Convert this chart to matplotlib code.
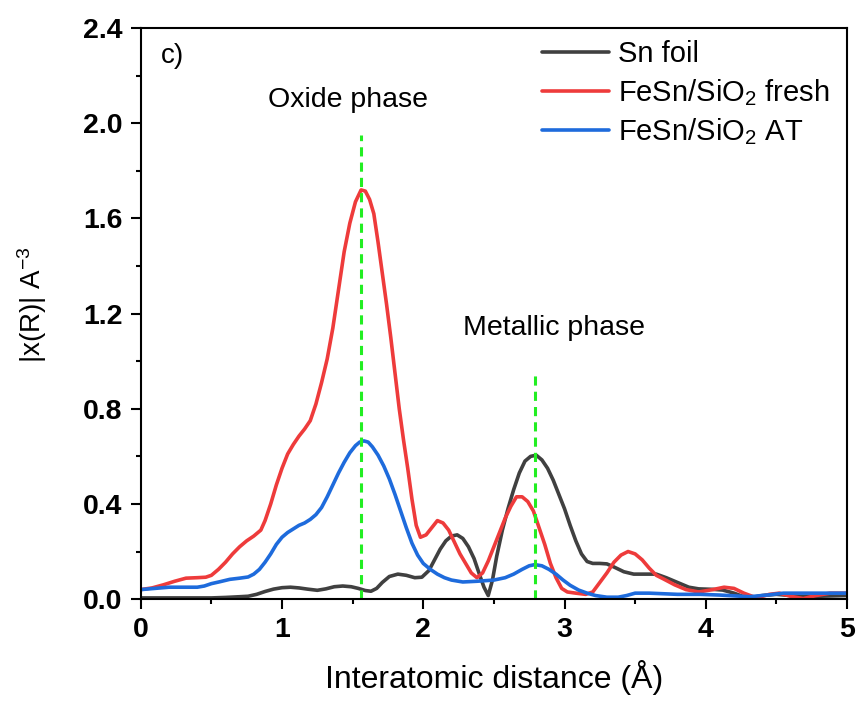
import matplotlib
matplotlib.use("Agg")
import matplotlib.pyplot as plt
from matplotlib.ticker import MultipleLocator

plt.rcParams['font.family'] = ['Liberation Sans', 'DejaVu Sans']
plt.rcParams['mathtext.fontset'] = 'custom'
plt.rcParams['mathtext.rm'] = 'Liberation Sans'
plt.rcParams['mathtext.it'] = 'Liberation Sans:italic'
plt.rcParams['mathtext.bf'] = 'Liberation Sans:bold'

# |chi(R)| magnitude of the Fourier-transformed EXAFS, Sn K-edge
r_foil = [0.00, 0.50, 0.60, 0.70, 0.76, 0.82, 0.88, 0.94, 1.00, 1.06, 1.12, 1.18,
          1.25, 1.31, 1.37, 1.43, 1.49, 1.54, 1.59, 1.63, 1.67, 1.71, 1.76, 1.82,
          1.88, 1.94, 1.99, 2.04, 2.08, 2.12, 2.16, 2.20, 2.24, 2.28, 2.32, 2.36,
          2.40, 2.43, 2.46, 2.49, 2.52, 2.56, 2.60, 2.64, 2.68, 2.72, 2.76, 2.80,
          2.84, 2.88, 2.92, 2.96, 3.00, 3.04, 3.08, 3.12, 3.16, 3.20, 3.25, 3.30,
          3.35, 3.42, 3.49, 3.57, 3.65, 3.72, 3.80, 3.88, 3.95, 4.05, 4.12, 4.20,
          4.27, 4.31, 4.40, 4.50, 4.60, 4.67, 4.80, 5.00]
chi_foil = [0.005, 0.005, 0.007, 0.010, 0.012, 0.020, 0.032, 0.042, 0.048, 0.050,
            0.047, 0.042, 0.037, 0.043, 0.052, 0.055, 0.052, 0.045, 0.036, 0.033,
            0.045, 0.070, 0.095, 0.105, 0.100, 0.090, 0.092, 0.120, 0.165, 0.210,
            0.245, 0.265, 0.270, 0.255, 0.220, 0.170, 0.100, 0.050, 0.015, 0.080,
            0.180, 0.290, 0.380, 0.460, 0.530, 0.580, 0.600, 0.605, 0.585, 0.550,
            0.500, 0.440, 0.380, 0.310, 0.245, 0.190, 0.158, 0.150, 0.150, 0.148,
            0.135, 0.115, 0.105, 0.105, 0.105, 0.090, 0.070, 0.050, 0.043, 0.041,
            0.038, 0.025, 0.010, 0.005, 0.015, 0.020, 0.015, 0.010, 0.012, 0.015]

r_fresh = [0.00, 0.08, 0.16, 0.24, 0.32, 0.40, 0.46, 0.50, 0.55, 0.60, 0.65, 0.70,
           0.75, 0.80, 0.85, 0.88, 0.92, 0.96, 1.00, 1.04, 1.08, 1.12, 1.16, 1.20,
           1.24, 1.28, 1.32, 1.36, 1.40, 1.44, 1.48, 1.52, 1.56, 1.59, 1.62, 1.65,
           1.68, 1.71, 1.74, 1.77, 1.80, 1.83, 1.86, 1.89, 1.92, 1.95, 1.98, 2.02,
           2.06, 2.10, 2.14, 2.18, 2.22, 2.26, 2.30, 2.34, 2.38, 2.42, 2.46, 2.50,
           2.54, 2.58, 2.62, 2.66, 2.70, 2.74, 2.78, 2.82, 2.86, 2.90, 2.94, 2.98,
           3.02, 3.08, 3.15, 3.20, 3.25, 3.30, 3.35, 3.40, 3.45, 3.50, 3.55, 3.60,
           3.65, 3.70, 3.78, 3.86, 3.95, 4.05, 4.13, 4.20, 4.27, 4.36, 4.45, 4.52,
           4.60, 4.69, 4.78, 4.88, 5.00]
chi_fresh = [0.040, 0.047, 0.060, 0.075, 0.088, 0.090, 0.092, 0.100, 0.125, 0.155,
             0.190, 0.220, 0.245, 0.265, 0.290, 0.330, 0.400, 0.480, 0.550, 0.610,
             0.650, 0.685, 0.715, 0.750, 0.820, 0.910, 1.010, 1.140, 1.300, 1.460,
             1.580, 1.670, 1.720, 1.715, 1.680, 1.620, 1.500, 1.370, 1.240, 1.100,
             0.950, 0.800, 0.670, 0.550, 0.420, 0.310, 0.260, 0.270, 0.300, 0.330,
             0.320, 0.290, 0.240, 0.190, 0.150, 0.110, 0.090, 0.110, 0.160, 0.220,
             0.280, 0.340, 0.390, 0.430, 0.430, 0.410, 0.370, 0.300, 0.230, 0.150,
             0.090, 0.045, 0.030, 0.025, 0.020, 0.030, 0.070, 0.110, 0.155, 0.185,
             0.200, 0.190, 0.165, 0.130, 0.100, 0.085, 0.060, 0.040, 0.030, 0.040,
             0.050, 0.045, 0.025, 0.005, 0.020, 0.025, 0.012, 0.002, 0.015, 0.025,
             0.025]

r_at = [0.00, 0.10, 0.20, 0.30, 0.40, 0.45, 0.50, 0.56, 0.63, 0.70, 0.76, 0.80,
        0.84, 0.88, 0.92, 0.96, 1.00, 1.04, 1.08, 1.12, 1.16, 1.20, 1.24, 1.28,
        1.32, 1.36, 1.40, 1.44, 1.48, 1.52, 1.55, 1.58, 1.61, 1.64, 1.68, 1.72,
        1.76, 1.80, 1.84, 1.88, 1.92, 1.96, 2.00, 2.05, 2.10, 2.15, 2.20, 2.28,
        2.38, 2.50, 2.58, 2.64, 2.70, 2.75, 2.79, 2.84, 2.89, 2.94, 2.99, 3.04,
        3.10, 3.16, 3.22, 3.30, 3.38, 3.44, 3.50, 3.60, 3.80, 3.96, 4.10, 4.31,
        4.45, 4.55, 4.70, 5.00]
chi_at = [0.040, 0.045, 0.050, 0.050, 0.050, 0.055, 0.065, 0.073, 0.083, 0.088,
          0.093, 0.105, 0.125, 0.155, 0.190, 0.230, 0.260, 0.280, 0.295, 0.310,
          0.320, 0.335, 0.355, 0.385, 0.430, 0.480, 0.530, 0.575, 0.615, 0.645,
          0.660, 0.665, 0.660, 0.640, 0.605, 0.560, 0.505, 0.440, 0.370, 0.300,
          0.235, 0.185, 0.150, 0.125, 0.105, 0.090, 0.080, 0.072, 0.075, 0.080,
          0.090, 0.105, 0.125, 0.140, 0.145, 0.140, 0.125, 0.105, 0.080, 0.058,
          0.038, 0.025, 0.015, 0.008, 0.008, 0.015, 0.025, 0.025, 0.020, 0.020,
          0.017, 0.010, 0.018, 0.025, 0.025, 0.025]

series_labels = ['Sn foil', 'FeSn/SiO$_2$ fresh', 'FeSn/SiO$_2$ AT']
series_colors = ['#404040', '#EE3B3B', '#1E6BDC']

# phase markers: position and height of the dashed guide lines
guide_r = [1.56, 2.79]
guide_top = [1.95, 0.95]

x_ticks = [0, 1, 2, 3, 4, 5]
y_ticks = [0.0, 0.4, 0.8, 1.2, 1.6, 2.0, 2.4]

fig = plt.figure(figsize=(8.62, 7.04), dpi=100)
ax = fig.add_axes([0.1633, 0.149, 0.8193, 0.811])

for r, chi, lab, col in zip([r_foil, r_fresh, r_at], [chi_foil, chi_fresh, chi_at],
                            series_labels, series_colors):
    ax.plot(r, chi, color=col, lw=2.6, label=lab,
            solid_joinstyle='round', solid_capstyle='round')

for gx, gt in zip(guide_r, guide_top):
    ax.plot([gx, gx], [0, gt], color='#22EE22', lw=2.2, ls=(0, (3, 2)))

ax.set_xlim(0, 5)
ax.set_ylim(0, 2.4)
ax.set_xticks(x_ticks)
ax.set_yticks(y_ticks)
ax.set_xticklabels([str(v) for v in x_ticks])
ax.set_yticklabels([f'{v:.1f}' for v in y_ticks])
ax.xaxis.set_minor_locator(MultipleLocator(0.5))
ax.yaxis.set_minor_locator(MultipleLocator(0.2))
ax.tick_params(which='major', direction='out', length=7, width=1.5,
               labelsize=20.5, pad=6, top=False, right=False)
ax.tick_params(which='minor', direction='out', length=3.5, width=1.5,
               top=False, right=False)
for lbl in ax.get_xticklabels() + ax.get_yticklabels():
    lbl.set_fontweight('bold')
for sp in ax.spines.values():
    sp.set_linewidth(1.5)

ax.set_xlabel('Interatomic distance (Å)', fontsize=23, labelpad=12)
ax.set_ylabel('|x(R)| A$^{-3}$', fontsize=20)
ax.yaxis.set_label_coords(-0.13, 0.515)

ax.text(0.14, 2.285, 'c)', fontsize=20, va='center', ha='left')
ax.text(0.90, 2.10, 'Oxide phase', fontsize=20.5, va='center', ha='left')
ax.text(2.28, 1.14, 'Metallic phase', fontsize=20.5, va='center', ha='left')

ax.legend(loc='upper left', bbox_to_anchor=(542 / 862, 1 - 40 / 704),
          bbox_transform=fig.transFigure, frameon=False, fontsize=21,
          handlelength=2.3, handletextpad=0.3, labelspacing=0.3, borderpad=0,
          borderaxespad=0)

fig.savefig('out.png', dpi=100)
